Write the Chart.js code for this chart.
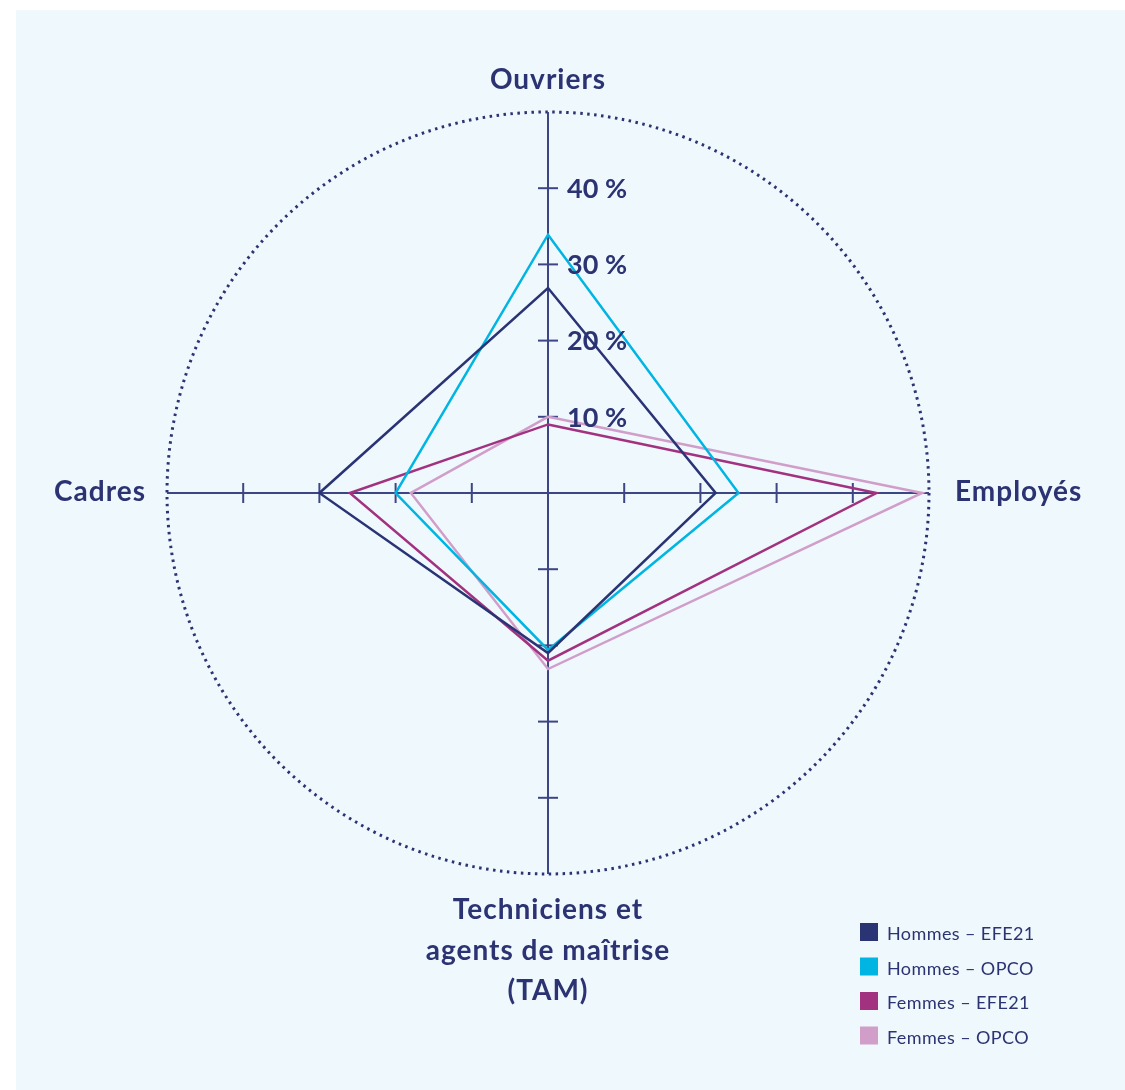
<!DOCTYPE html>
<html>
<head>
<meta charset="utf-8">
<script src="https://cdn.jsdelivr.net/npm/chart.js@4.4.1/dist/chart.umd.min.js"></script>
<style>
    html, body { margin: 0; padding: 0; background: #ffffff; }
    #panel { position: absolute; left: 16px; top: 10px; width: 1109px; height: 1080px; background: #eff8fd; }
    #myChart { position: absolute; left: 0; top: 0; }
</style>
</head>
<body>
<div id="panel"></div>
<canvas id="myChart" width="1125" height="1090"></canvas>
<script>
// categories (lignes multiples pour TAM)
var categories = [['Ouvriers'], ['Employés'], ['Techniciens et', 'agents de maîtrise', '(TAM)'], ['Cadres']];
var seriesLabels = ['Hommes – EFE21', 'Hommes – OPCO', 'Femmes – EFE21', 'Femmes – OPCO'];
var seriesColors = ['#2a3475', '#00b5e2', '#a2327f', '#d09ec9'];

var hommesEFE21 = [26.9, 22.0, 21.0, 30.0];
var hommesOPCO = [33.9, 25.0, 20.6, 20.0];
var femmesEFE21 = [9.0, 43.1, 22.0, 26.0];
var femmesOPCO = [10.0, 49.1, 23.1, 18.0];

var tickValues = [10, 20, 30, 40]; // graduations affichées
var axisMax = 50;

var navy = '#2b3372';
var axisColor = '#3d4685';

// petits traits + libellés des graduations, libellés des axes, légende
var decorPlugin = {
    id: 'decor',
    beforeDatasetsDraw: function (chart) {
        var s = chart.scales.r;
        var c = chart.ctx;
        c.save();
        c.strokeStyle = axisColor;
        c.lineWidth = 2;
        for (var i = 0; i < categories.length; i++) {
            var a = s.getIndexAngle(i) - Math.PI / 2;
            var px = -Math.sin(a), py = Math.cos(a);
            tickValues.forEach(function (v) {
                var p = s.getPointPosition(i, s.getDistanceFromCenterForValue(v));
                c.beginPath();
                c.moveTo(p.x - px * 10, p.y - py * 10);
                c.lineTo(p.x + px * 10, p.y + py * 10);
                c.stroke();
            });
        }
        c.restore();
    },
    afterDraw: function (chart) {
        var s = chart.scales.r;
        var c = chart.ctx;
        c.save();
        c.fillStyle = navy;

        // libellés 10 % ... 40 % à droite de l'axe vertical
        c.font = 'bold 27px Lato';
        c.textAlign = 'left';
        c.textBaseline = 'middle';
        s.ticks.forEach(function (t) {
            if (tickValues.indexOf(t.value) < 0) return;
            var p = s.getPointPosition(0, s.getDistanceFromCenterForValue(t.value));
            c.fillText(t.label, p.x + 19, p.y + 1);
        });

        // libellés des catégories
        var r = s.drawingArea;
        c.font = 'bold 28px Lato';
        c.letterSpacing = '1px';
        c.textBaseline = 'alphabetic';
        var top = s.getPointPosition(0, r + 23);
        c.textAlign = 'center';
        c.fillText(categories[0][0], top.x, top.y);
        var right = s.getPointPosition(1, r + 26);
        c.textAlign = 'left';
        c.fillText(categories[1][0], right.x, right.y + 8);
        var bottom = s.getPointPosition(2, r + 45);
        c.textAlign = 'center';
        categories[2].forEach(function (line, k) {
            c.fillText(line, bottom.x, bottom.y + k * 40.5);
        });
        var left = s.getPointPosition(3, r + 21);
        c.textAlign = 'right';
        c.fillText(categories[3][0], left.x, left.y + 8);

        // légende
        c.font = '18px Lato';
        c.letterSpacing = '0.4px';
        c.textAlign = 'left';
        chart.data.datasets.forEach(function (ds, k) {
            var y = 923 + k * 34.5;
            c.fillStyle = ds.borderColor;
            c.fillRect(860, y, 18, 18);
            c.fillStyle = navy;
            c.fillText(ds.label, 887, y + 17);
        });
        c.restore();
    }
};

var seriesData = [hommesEFE21, hommesOPCO, femmesEFE21, femmesOPCO];

var ctx = document.getElementById('myChart').getContext('2d');
var myChart = new Chart(ctx, {
    type: 'radar',
    data: {
        labels: categories,
        datasets: seriesData.map(function (d, k) {
            return {
                label: seriesLabels[k],
                data: d,
                fill: false,
                borderColor: seriesColors[k],
                borderWidth: 2.5,
                pointRadius: 0,
                pointHoverRadius: 0,
                tension: 0
            };
        })
    },
    options: {
        responsive: false,
        animation: false,
        layout: {
            padding: { left: 167, right: 196, top: 112, bottom: 216 }
        },
        scales: {
            r: {
                min: 0,
                max: axisMax,
                ticks: {
                    stepSize: 10,
                    display: false,
                    callback: function (value) {
                        return value + ' %';
                    }
                },
                pointLabels: { display: false },
                angleLines: {
                    color: axisColor,
                    lineWidth: 2
                },
                grid: {
                    circular: true,
                    color: navy,
                    lineWidth: function (c) {
                        return c.tick && c.tick.value === axisMax ? 3 : 0;
                    }
                },
                border: {
                    dash: [2.5, 4.5]
                }
            }
        },
        plugins: {
            legend: { display: false },
            tooltip: { enabled: false }
        }
    },
    plugins: [decorPlugin]
});
</script>
</body>
</html>
